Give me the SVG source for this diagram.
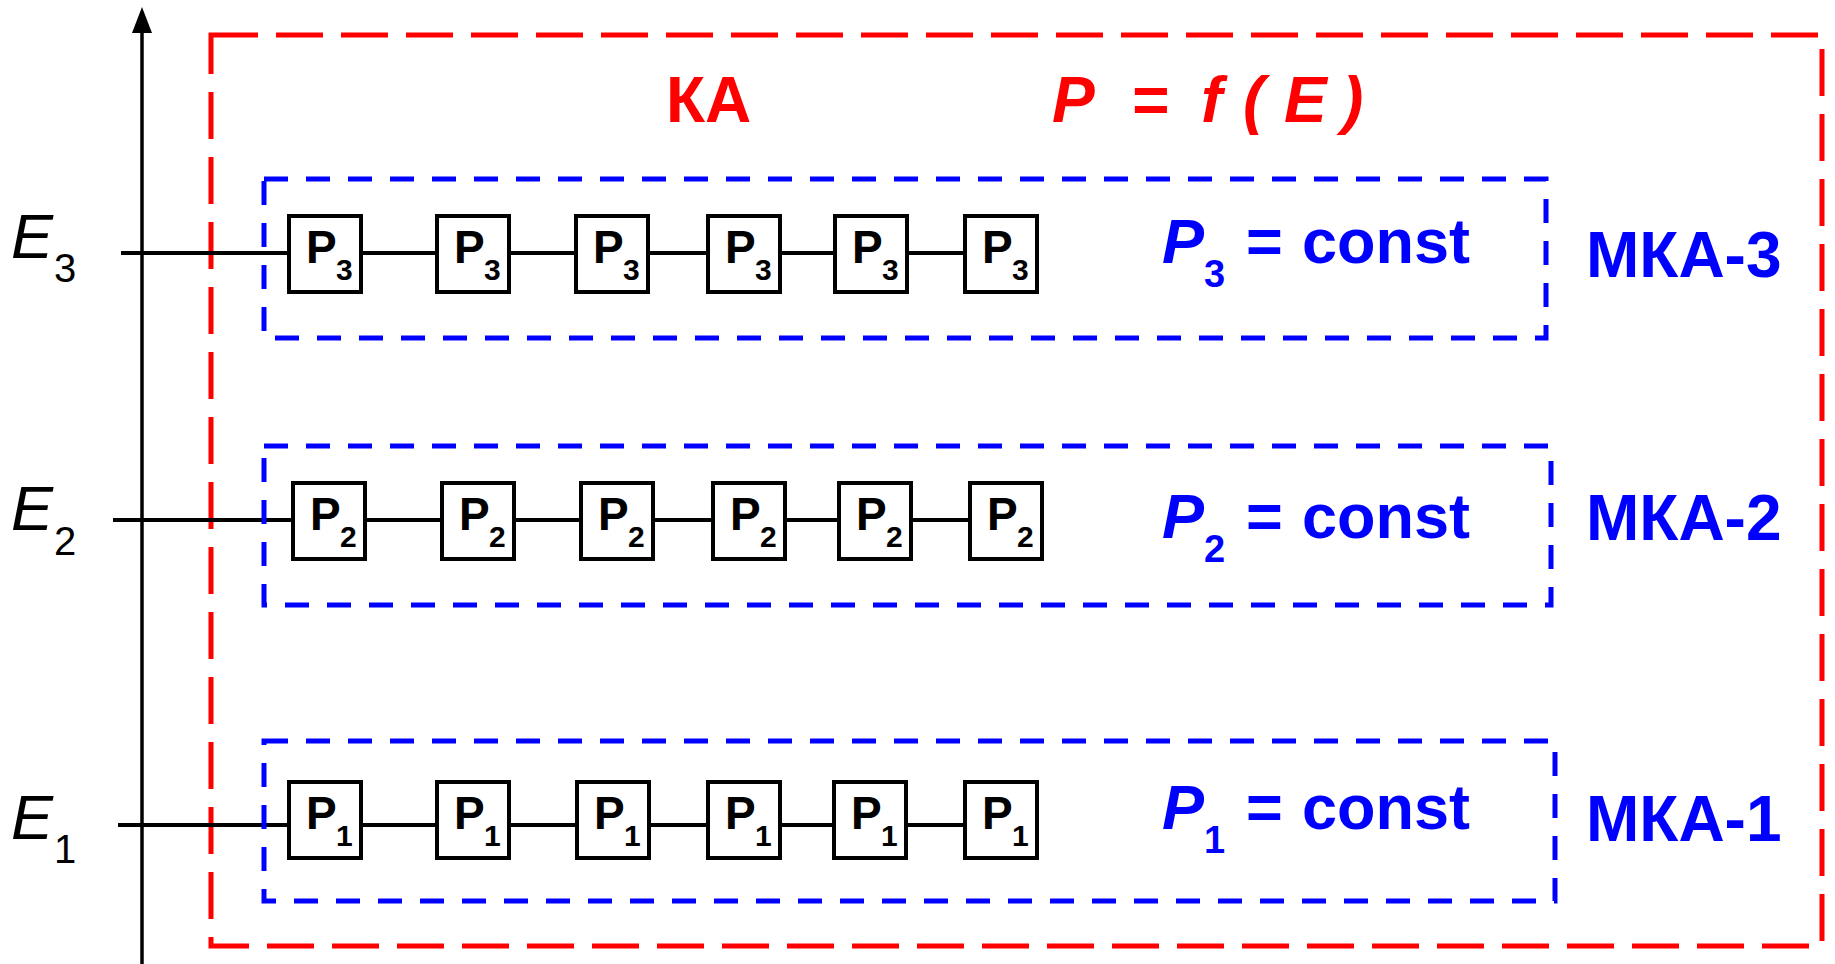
<svg xmlns="http://www.w3.org/2000/svg" width="1835" height="964" viewBox="0 0 1835 964">
<defs>
<style>
.ka{fill:none;stroke:#ff0000;stroke-width:5;stroke-dasharray:47 18}
.mka{fill:none;stroke:#0000ff;stroke-width:5;stroke-dasharray:24 18}
.box{fill:#fff;stroke:#000;stroke-width:4}
.wire{stroke:#000;stroke-width:4;fill:none}
.axis{stroke:#000;stroke-width:3.5;fill:none}
.pl{font-family:"Liberation Sans",Arial,sans-serif;font-weight:bold;font-size:46px;fill:#000}
.ps{font-family:"Liberation Sans",Arial,sans-serif;font-weight:bold;font-size:30px;fill:#000}
.el{font-family:"Liberation Sans",Arial,sans-serif;font-style:italic;font-size:63px;fill:#000}
.es{font-family:"Liberation Sans",Arial,sans-serif;font-size:40px;fill:#000}
.red{font-family:"Liberation Sans",Arial,sans-serif;font-weight:bold;font-size:64px;fill:#ff0000}
.redi{font-family:"Liberation Sans",Arial,sans-serif;font-weight:bold;font-style:italic;font-size:64px;fill:#ff0000}
.blue{font-family:"Liberation Sans",Arial,sans-serif;font-weight:bold;font-size:63px;fill:#0000ff}
.bluei{font-family:"Liberation Sans",Arial,sans-serif;font-weight:bold;font-style:italic;font-size:63px;fill:#0000ff}
.blues{font-family:"Liberation Sans",Arial,sans-serif;font-weight:bold;font-size:38px;fill:#0000ff}
.mkat{font-family:"Liberation Sans",Arial,sans-serif;font-weight:bold;font-size:64px;fill:#0000ff}
</style>
</defs>
<rect width="1835" height="964" fill="#fff"/>

<g id="ka">
<rect class="ka" x="211" y="35" width="1611" height="911"/>
<text class="red" x="666" y="122">КА</text>
<text class="redi" y="122"><tspan x="1052">P</tspan><tspan x="1131">=</tspan><tspan x="1201">f</tspan><tspan x="1243">(</tspan><tspan x="1284">E</tspan><tspan x="1342">)</tspan></text>
</g>

<g id="connectors">
<line class="axis" x1="142" y1="964" x2="142" y2="30"/>
<polygon points="142,7 132,33 152,33" fill="#000"/>
<line class="wire" x1="121" y1="253" x2="966" y2="253"/>
<line class="wire" x1="113" y1="520" x2="970" y2="520"/>
<line class="wire" x1="118" y1="825" x2="966" y2="825"/>
</g>

<g id="e3"><text class="el" x="11" y="258">E</text><text class="es" x="54" y="282">3</text></g>
<g id="e2"><text class="el" x="11" y="530">E</text><text class="es" x="54" y="555">2</text></g>
<g id="e1"><text class="el" x="11" y="839">E</text><text class="es" x="54" y="863">1</text></g>

<g id="mka3">
<rect class="mka" x="264" y="179" width="1282" height="159"/>
<text class="bluei" x="1162" y="263">P</text><text class="blues" x="1204" y="287">3</text>
<text class="blue" x="1246" y="263">=</text><text class="blue" x="1302" y="263">const</text>
<text class="mkat" x="1586" y="277">МКА-3</text>
</g>
<g id="mka2">
<rect class="mka" x="264" y="446" width="1287" height="159"/>
<text class="bluei" x="1162" y="538">P</text><text class="blues" x="1204" y="562">2</text>
<text class="blue" x="1246" y="538">=</text><text class="blue" x="1302" y="538">const</text>
<text class="mkat" x="1586" y="540">МКА-2</text>
</g>
<g id="mka1">
<rect class="mka" x="264" y="741" width="1291" height="160"/>
<text class="bluei" x="1162" y="829">P</text><text class="blues" x="1204" y="853">1</text>
<text class="blue" x="1246" y="829">=</text><text class="blue" x="1302" y="829">const</text>
<text class="mkat" x="1586" y="841">МКА-1</text>
</g>

<g id="row3">
<g id="p3a"><rect class="box" x="289" y="216" width="72" height="76"/><text class="pl" x="306" y="263">P</text><text class="ps" x="336" y="280">3</text></g>
<g id="p3b"><rect class="box" x="437" y="216" width="72" height="76"/><text class="pl" x="454" y="263">P</text><text class="ps" x="484" y="280">3</text></g>
<g id="p3c"><rect class="box" x="576" y="216" width="72" height="76"/><text class="pl" x="593" y="263">P</text><text class="ps" x="623" y="280">3</text></g>
<g id="p3d"><rect class="box" x="708" y="216" width="72" height="76"/><text class="pl" x="725" y="263">P</text><text class="ps" x="755" y="280">3</text></g>
<g id="p3e"><rect class="box" x="835" y="216" width="72" height="76"/><text class="pl" x="852" y="263">P</text><text class="ps" x="882" y="280">3</text></g>
<g id="p3f"><rect class="box" x="965" y="216" width="72" height="76"/><text class="pl" x="982" y="263">P</text><text class="ps" x="1012" y="280">3</text></g>
</g>
<g id="row2">
<g id="p2a"><rect class="box" x="293" y="483" width="72" height="76"/><text class="pl" x="310" y="530">P</text><text class="ps" x="340" y="547">2</text></g>
<g id="p2b"><rect class="box" x="442" y="483" width="72" height="76"/><text class="pl" x="459" y="530">P</text><text class="ps" x="489" y="547">2</text></g>
<g id="p2c"><rect class="box" x="581" y="483" width="72" height="76"/><text class="pl" x="598" y="530">P</text><text class="ps" x="628" y="547">2</text></g>
<g id="p2d"><rect class="box" x="713" y="483" width="72" height="76"/><text class="pl" x="730" y="530">P</text><text class="ps" x="760" y="547">2</text></g>
<g id="p2e"><rect class="box" x="839" y="483" width="72" height="76"/><text class="pl" x="856" y="530">P</text><text class="ps" x="886" y="547">2</text></g>
<g id="p2f"><rect class="box" x="970" y="483" width="72" height="76"/><text class="pl" x="987" y="530">P</text><text class="ps" x="1017" y="547">2</text></g>
</g>
<g id="row1">
<g id="p1a"><rect class="box" x="289" y="782" width="72" height="76"/><text class="pl" x="306" y="829">P</text><text class="ps" x="336" y="846">1</text></g>
<g id="p1b"><rect class="box" x="437" y="782" width="72" height="76"/><text class="pl" x="454" y="829">P</text><text class="ps" x="484" y="846">1</text></g>
<g id="p1c"><rect class="box" x="577" y="782" width="72" height="76"/><text class="pl" x="594" y="829">P</text><text class="ps" x="624" y="846">1</text></g>
<g id="p1d"><rect class="box" x="708" y="782" width="72" height="76"/><text class="pl" x="725" y="829">P</text><text class="ps" x="755" y="846">1</text></g>
<g id="p1e"><rect class="box" x="834" y="782" width="72" height="76"/><text class="pl" x="851" y="829">P</text><text class="ps" x="881" y="846">1</text></g>
<g id="p1f"><rect class="box" x="965" y="782" width="72" height="76"/><text class="pl" x="982" y="829">P</text><text class="ps" x="1012" y="846">1</text></g>
</g>
</svg>
